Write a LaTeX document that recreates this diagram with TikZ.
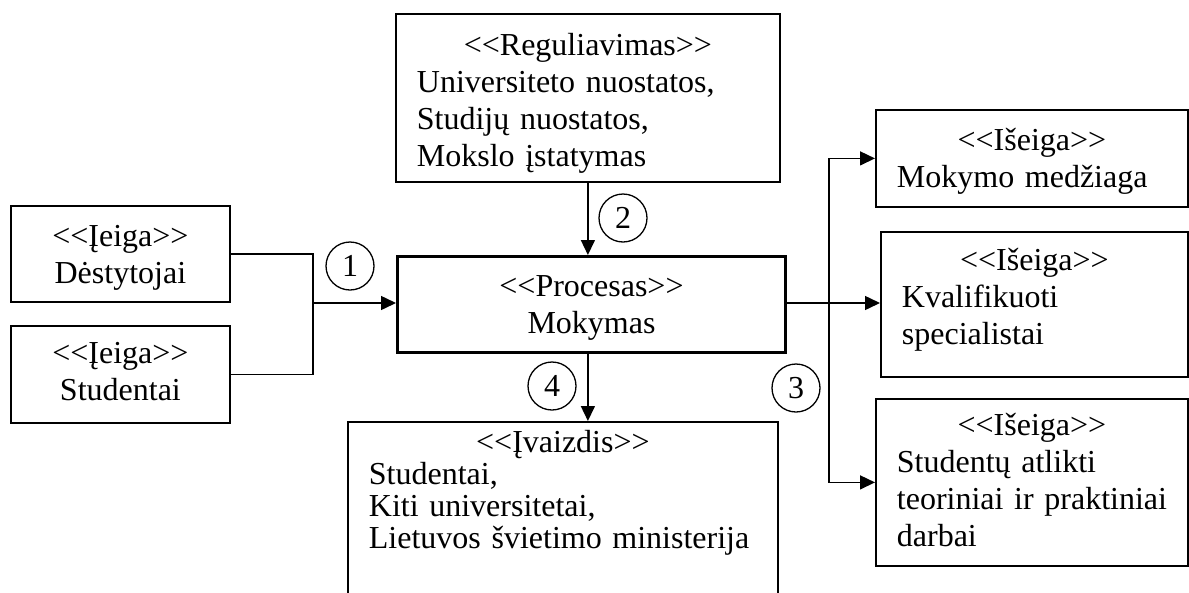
\documentclass[tikz,border=0pt]{standalone}
\usepackage{fontspec}
\setmainfont{Liberation Serif}
\usetikzlibrary{arrows.meta}
% stereotipas ir atitraukimai nuo virsaus / apacios
\newcommand{\stereo}[1]{<\kern0pt<#1>\kern0pt>}
\newcommand{\virsus}[1]{\rule{0pt}{#1pt}}
\newcommand{\apacia}[1]{\rule[-#1pt]{0pt}{0pt}}
\tikzset{
  blokas/.style={draw, line width=1.8pt, anchor=north west, inner xsep=21pt, inner ysep=0pt, align=left},
  centras/.style={blokas, align=center},
  ratas/.style={circle, draw, line width=1.3pt, minimum size=48pt, inner sep=0pt},
  rodykle/.style={line width=1.5pt, -{Triangle[length=15pt,width=14pt]}},
}
\begin{document}
\begin{tikzpicture}[x=1pt, y=-1pt, font=\fontsize{32}{37}\selectfont]
\useasboundingbox (0,0) rectangle (1189,592);
% blokai
\node[blokas, text width=342pt] (reg) at (395,13){\makebox[\linewidth]{\virsus{42}\stereo{Reguliavimas}}\\\mbox{Universiteto nuostatos,}\\Studijų nuostatos,\\Mokslo įstatymas\apacia{15}};
\node[centras, line width=3pt, text width=346pt] (proc) at (396,255){\virsus{40}\stereo{Procesas}\\Mokymas\apacia{19}};
\node[centras, text width=177pt] (in1) at (10,205){\virsus{41}\stereo{Įeiga}\\Dėstytojai\apacia{18}};
\node[centras, text width=177pt] (in2) at (10,325){\virsus{38}\stereo{Įeiga}\\Studentai\apacia{22}};
\node[blokas, text width=270pt] (out1) at (875,109){\makebox[\linewidth]{\virsus{41}\stereo{Išeiga}}\\\mbox{Mokymo medžiaga}\apacia{19}};
\node[blokas, text width=265pt] (out2) at (880,231){\makebox[\linewidth]{\virsus{39}\stereo{Išeiga}}\\Kvalifikuoti\\specialistai\apacia{32}};
\node[blokas, text width=270pt] (out3) at (875,398){\makebox[\linewidth]{\virsus{37}\stereo{Išeiga}}\\Studentų atlikti\\\mbox{teoriniai ir praktiniai}\\darbai\apacia{19}};
\node[blokas, text width=388pt, font=\fontsize{32}{32}\selectfont] (vaiz) at (347,421){\makebox[\linewidth]{\virsus{31}\stereo{Įvaizdis}}\\Studentai,\\Kiti universitetai,\\\mbox{Lietuvos švietimo ministerija}\apacia{60}};
% numeriai
\node[ratas] (k1) at (350,266){1};
\node[ratas] (k2) at (623,218){2};
\node[ratas] (k3) at (796,388){3};
\node[ratas] (k4) at (552,386){4};
% jungtys
\coordinate (jung1) at (313,303);
\coordinate (jung2) at (829,303);
\draw[line width=1.5pt] (in1.east) -| (jung1);
\draw[line width=1.5pt] (in2.east) -| (jung1);
\draw[rodykle] (jung1) -- (jung1 -| proc.west);
\draw[rodykle] (reg.south) -- (reg.south |- proc.north);
\draw[rodykle] (reg.south |- proc.south) -- (reg.south |- vaiz.north);
\draw[line width=2.7pt] (jung2 -| proc.east) -- (jung2);
\draw[rodykle] (jung2) |- (out1.west);
\draw[rodykle] (jung2) -- (jung2 -| out2.west);
\draw[rodykle] (jung2) |- (out3.west);
\end{tikzpicture}
\end{document}
